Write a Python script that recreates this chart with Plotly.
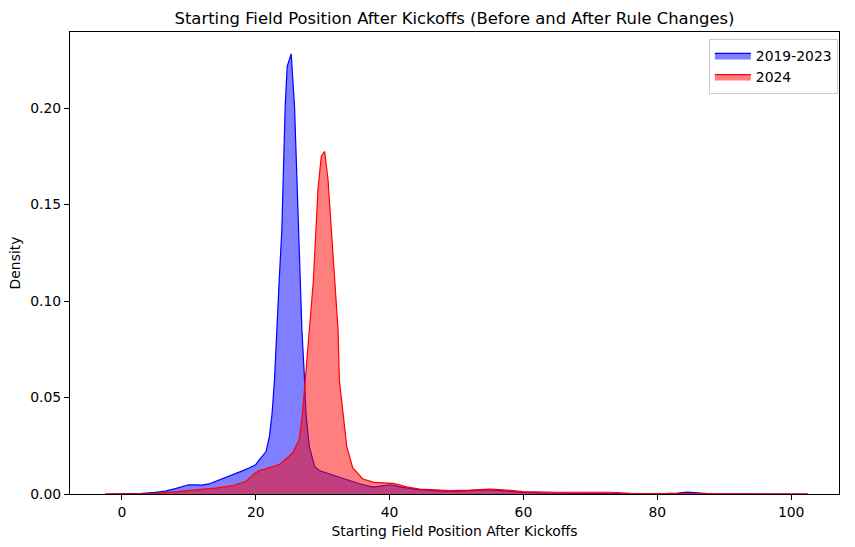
import plotly.graph_objects as go

# Series 2019-2023 (KDE)
x_before = [-2.5, 0, 3, 5, 6.5, 8, 9, 10, 11, 12, 13, 14, 15, 16.5, 18, 19, 20, 20.55, 21.55,
            22.05, 22.45, 22.8, 23.1, 23.5, 23.9, 24.1, 24.4, 24.7, 25.3, 25.8, 26.1, 26.4,
            26.9, 27.3, 27.5, 28.0, 28.8, 29.5, 30.5, 32.0, 33.5, 35.5, 37.5, 38.8, 40.0,
            41.0, 42.0, 44.2, 46, 48, 50, 52, 55, 57, 60, 65, 70, 75, 80, 83, 84.5, 86, 88,
            95, 102.5]
d_before = [0, 0, 0.0003, 0.0008, 0.0015, 0.0028, 0.004, 0.0048, 0.0047, 0.0046, 0.0052,
            0.0065, 0.0078, 0.010, 0.012, 0.0135, 0.0152, 0.0178, 0.022,
            0.030, 0.042, 0.059, 0.085, 0.11, 0.137, 0.166, 0.2008, 0.2216, 0.2281, 0.2008,
            0.166, 0.132, 0.085, 0.059, 0.042, 0.0247, 0.0143, 0.0122, 0.011, 0.0095,
            0.0075, 0.0053, 0.0036, 0.0041, 0.0048, 0.0042, 0.0034, 0.0024, 0.0018, 0.0015,
            0.0015, 0.0017, 0.0022, 0.0016, 0.0008, 0.0004, 0.0002, 0.0001, 0.0001, 0.0005,
            0.001, 0.0006, 0.0001, 0, 0]

# Series 2024
x_after = [-2.5, 3, 5, 7.5, 10, 11.6, 14, 16.5, 18.5, 20, 20.55, 21.5, 23.5, 25.5, 26.5,
           27.0, 27.4, 28.1, 28.6, 29.0, 29.3, 29.8, 30.3, 30.8, 31.4, 32.0, 32.3, 32.5,
           33.1, 33.6, 34.5, 36.0, 37.7, 39.5, 40.5, 41.5, 42.5, 44.5, 47, 49, 52, 55, 57,
           60, 65, 70, 73, 76, 80, 90, 102.5]
d_after = [0, 0, 0.0002, 0.001, 0.0018, 0.0022, 0.003, 0.0043, 0.0065, 0.011, 0.0122, 0.013,
           0.0152, 0.0212, 0.028, 0.042, 0.059, 0.085, 0.11, 0.137, 0.158, 0.175, 0.1775,
           0.163, 0.132, 0.10, 0.085, 0.059, 0.042, 0.0247, 0.0135, 0.0078, 0.006, 0.0057,
           0.0055, 0.0048, 0.0037, 0.0026, 0.002, 0.0018, 0.002, 0.0025, 0.0022, 0.0012,
           0.0009, 0.0008, 0.0009, 0.0004, 0.0002, 0.0001, 0]

labels = ["2019-2023", "2024"]
x_ticks = [0, 20, 40, 60, 80, 100]
y_ticks = [0.00, 0.05, 0.10, 0.15, 0.20]

fig = go.Figure()
fig.add_trace(go.Scatter(x=x_before, y=d_before, name=labels[0], mode="lines",
                         line=dict(color="blue", width=1.2), fill="tozeroy",
                         fillcolor="rgba(0,0,255,0.5)"))
fig.add_trace(go.Scatter(x=x_after, y=d_after, name=labels[1], mode="lines",
                         line=dict(color="red", width=1.2), fill="tozeroy",
                         fillcolor="rgba(255,0,0,0.5)"))

font = "DejaVu Sans, Arial, sans-serif"
fig.update_layout(
    width=855, height=547,
    margin=dict(l=70, r=16, t=32, b=53, autoexpand=False),
    plot_bgcolor="white", paper_bgcolor="white",
    font=dict(family=font, size=13.9, color="black"),
    title=dict(text="Starting Field Position After Kickoffs (Before and After Rule Changes)",
               x=0.5, xref="paper", xanchor="center", y=1 - 18 / 547, yanchor="middle",
               font=dict(size=16.4)),
    showlegend=True,
    legend=dict(x=0.9985, y=0.985, xanchor="right", yanchor="top",
                bordercolor="#cccccc", borderwidth=1, bgcolor="rgba(255,255,255,0.8)",
                font=dict(size=13.9), tracegroupgap=2, itemwidth=36),
)
fig.update_xaxes(range=[-7.75, 107.15], tickvals=x_ticks, ticktext=[str(v) for v in x_ticks],
                 showgrid=False, zeroline=False, showline=True, linecolor="black",
                 linewidth=1, mirror=True, ticks="outside", ticklen=5, tickcolor="black",
                 automargin=False, tickfont=dict(size=13.9),
                 title=dict(text="Starting Field Position After Kickoffs", standoff=7,
                            font=dict(size=13.9)))
fig.update_yaxes(range=[0, 0.2394], tickvals=y_ticks, ticktext=[f"{v:.2f}" for v in y_ticks],
                 showgrid=False, zeroline=False, showline=True, linecolor="black",
                 linewidth=1, mirror=True, ticks="outside", ticklen=5, tickcolor="black",
                 automargin=False, tickfont=dict(size=13.9),
                 title=dict(text="Density", standoff=6, font=dict(size=13.9)))

fig.write_html("out.html", config={"displayModeBar": False},
               post_script="document.body.style.margin='0';document.body.style.padding='0';")
